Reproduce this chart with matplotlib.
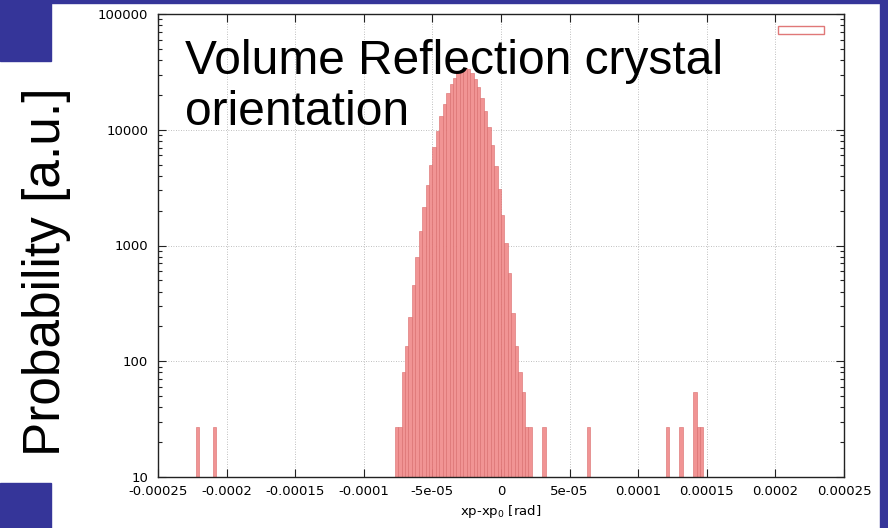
import matplotlib
matplotlib.use("Agg")
import matplotlib.pyplot as plt
from matplotlib.patches import Rectangle, Patch
from matplotlib.ticker import FixedLocator, FixedFormatter, LogLocator, NullFormatter

# histogram (bin width 2.5e-6 rad)
bin_width = 2.5e-6
centers_core = [-76.25, -73.75, -71.25, -68.75, -66.25, -63.75, -61.25, -58.75,
                -56.25, -53.75, -51.25, -48.75, -46.25, -43.75, -41.25, -38.75,
                -36.25, -33.75, -31.25, -28.75, -26.25, -23.75, -21.25, -18.75,
                -16.25, -13.75, -11.25, -8.75, -6.25, -3.75, -1.25, 1.25,
                3.75, 6.25, 8.75, 11.25, 13.75, 16.25, 18.75, 21.25]
counts_core = [27, 27, 81, 135, 243, 460, 790, 1330,
               2140, 3310, 4950, 7100, 9800, 13100, 16800, 20700,
               24700, 28200, 31200, 33100, 33900, 33200, 31000, 27600,
               23400, 18800, 14500, 10600, 7360, 4880, 3080, 1850,
               1060, 580, 260, 135, 81, 54, 27, 27]
# isolated entries in the tails
centers_tail = [-221.25, -208.75, 31.25, 63.75, 121.25, 131.25, 141.25, 143.75, 146.25]
counts_tail = [27, 27, 27, 27, 27, 27, 54, 27, 27]

xticks = [-0.00025, -0.0002, -0.00015, -0.0001, -5e-05, 0, 5e-05, 0.0001, 0.00015, 0.0002, 0.00025]
xtick_labels = ["-0.00025", "-0.0002", "-0.00015", "-0.0001", "-5e-05", "0",
                "5e-05", "0.0001", "0.00015", "0.0002", "0.00025"]
yticks = [10, 100, 1000, 10000, 100000]
ytick_labels = ["10", "100", "1000", "10000", "100000"]

blue = "#353599"
fill = "#f19494"
edge = "#d96a6a"

fig = plt.figure(figsize=(8.88, 5.28), dpi=100)
fig.patch.set_facecolor("white")

# slide background pieces
for x, y, w, h in [(0, 525, 888, 3), (880, 0, 8, 528), (0, 467, 51, 61), (0, 0, 51, 45)]:
    fig.patches.append(Rectangle((x / 888, y / 528), w / 888, h / 528,
                                 transform=fig.transFigure, color=blue, zorder=0))

ax = fig.add_axes([158 / 888, 51 / 528, 686 / 888, 463 / 528])

centers = [c * 1e-6 for c in centers_core + centers_tail]
counts = counts_core + counts_tail
ax.bar(centers, counts, width=bin_width, bottom=0, facecolor=fill, edgecolor=edge,
       linewidth=0.4, zorder=2)

ax.set_yscale("log")
ax.set_xlim(-0.00025, 0.00025)
ax.set_ylim(10, 100000)

ax.xaxis.set_major_locator(FixedLocator(xticks))
ax.xaxis.set_major_formatter(FixedFormatter(xtick_labels))
ax.yaxis.set_major_locator(FixedLocator(yticks))
ax.yaxis.set_major_formatter(FixedFormatter(ytick_labels))
ax.yaxis.set_minor_locator(LogLocator(base=10, subs=range(2, 10)))
ax.yaxis.set_minor_formatter(NullFormatter())

ax.tick_params(which="both", direction="in", top=True, right=True, colors="#222222",
               labelcolor="black", labelsize=9.5)
ax.tick_params(axis="y", which="major", length=6, width=0.8, pad=7)
ax.tick_params(axis="y", which="minor", length=3, width=0.8)
ax.tick_params(axis="x", which="major", length=6, width=0.8, pad=6)
for s in ax.spines.values():
    s.set_color("#222222")
    s.set_linewidth(1.0)

ax.grid(True, which="major", linestyle=(0, (1, 2)), color="#aaaaaa", linewidth=0.6, zorder=0)
ax.set_axisbelow(True)

ax.set_xlabel("xp-xp$_0$ [rad]", fontsize=9.5, labelpad=3)

ax.legend(handles=[Patch(facecolor="white", edgecolor="#e07878", linewidth=1)], labels=[""],
          loc="upper right", bbox_to_anchor=((824 - 158) / 686, (477 - 24) / 463),
          frameon=False, borderpad=0, borderaxespad=0, handletextpad=0,
          handlelength=3.3, handleheight=0.58)

# baseline of the last line sits at y=125 px
fig.text(185 / 888, 1 - 125 / 528, "Volume Reflection crystal\norientation",
         family=["Liberation Sans", "DejaVu Sans"], fontsize=34.5, va="baseline", ha="left",
         linespacing=1.17)
fig.text(60 / 888, 1 - 272 / 528, "Probability [a.u.]", family=["Liberation Sans", "DejaVu Sans"],
         fontsize=37, rotation=90, rotation_mode="anchor", ha="center", va="baseline")

fig.savefig("out.png", dpi=100)
